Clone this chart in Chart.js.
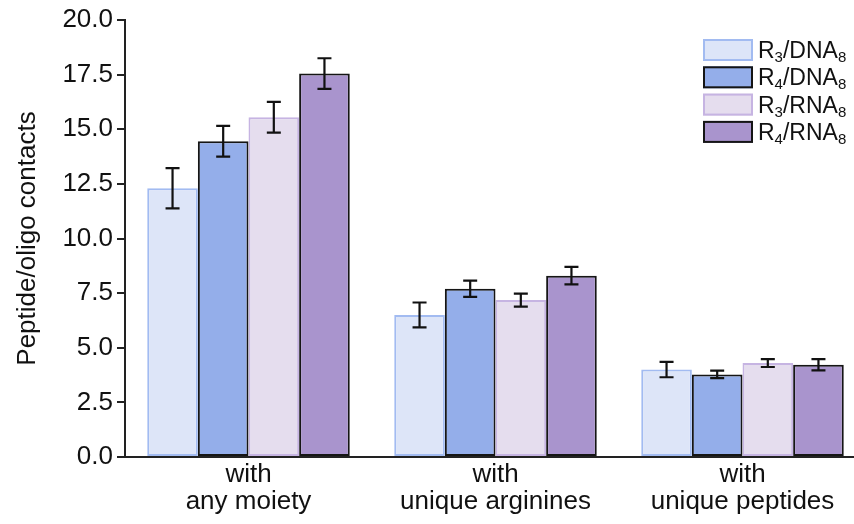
<!DOCTYPE html>
<html>
<head>
<meta charset="utf-8">
<script src="https://cdn.jsdelivr.net/npm/chart.js@4.4.1/dist/chart.umd.min.js"></script>
<style>
  html, body { margin: 0; padding: 0; background: #fff; overflow: hidden; }
  #wrap { width: 854px; height: 524px; overflow: hidden; }
  canvas { display: block; }
</style>
</head>
<body>
<div id="wrap"><canvas id="c" width="870" height="524"></canvas></div>
<script>
// Contact counts per peptide/oligo system
const categories = [["with", "any moiety"], ["with", "unique arginines"], ["with", "unique peptides"]];
const seriesNames = ["R3/DNA8", "R4/DNA8", "R3/RNA8", "R4/RNA8"];
const r3Dna = [12.3, 6.5, 4.0];
const r4Dna = [14.45, 7.7, 3.78];
const r3Rna = [15.55, 7.18, 4.3];
const r4Rna = [17.55, 8.3, 4.22];
const r3DnaErr = [0.92, 0.57, 0.35];
const r4DnaErr = [0.7, 0.37, 0.17];
const r3RnaErr = [0.7, 0.3, 0.18];
const r4RnaErr = [0.7, 0.4, 0.26];
const yTicks = [0, 2.5, 5, 7.5, 10, 12.5, 15, 17.5, 20];

const FONT = "'Liberation Sans', Arial, Helvetica, sans-serif";
const fills = ["#dde5f8", "#94aeea", "#e5ddee", "#a994cd"];
const edges = ["#a2bbf1", "#151515", "#c6b4e2", "#151515"];
const values = [r3Dna, r4Dna, r3Rna, r4Rna];
const errors = [r3DnaErr, r4DnaErr, r3RnaErr, r4RnaErr];

// error bars drawn through the y scale
const errorBars = {
  id: "errorBars",
  afterDatasetsDraw(chart) {
    const ctx = chart.ctx, y = chart.scales.y;
    ctx.save();
    ctx.strokeStyle = "#111";
    ctx.lineWidth = 2.2;
    chart.data.datasets.forEach((ds, i) => {
      const meta = chart.getDatasetMeta(i);
      meta.data.forEach((bar, j) => {
        const v = ds.data[j], e = ds.errors[j];
        const yt = y.getPixelForValue(v + e), yb = y.getPixelForValue(v - e);
        const cap = 7;
        ctx.beginPath();
        ctx.moveTo(bar.x, yt); ctx.lineTo(bar.x, yb);
        ctx.moveTo(bar.x - cap, yt); ctx.lineTo(bar.x + cap, yt);
        ctx.moveTo(bar.x - cap, yb); ctx.lineTo(bar.x + cap, yb);
        ctx.stroke();
      });
    });
    ctx.restore();
  }
};

// legend with subscripted digits
const subLegend = {
  id: "subLegend",
  afterDraw(chart) {
    const ctx = chart.ctx;
    const x0 = 703, y0 = 39, bw = 50, bh = 22, step = 27.3;
    ctx.save();
    chart.data.datasets.forEach((ds, i) => {
      const top = y0 + i * step;
      ctx.fillStyle = ds.backgroundColor;
      ctx.fillRect(x0, top, bw, bh);
      ctx.strokeStyle = ds.borderColor;
      ctx.lineWidth = 2;
      ctx.strokeRect(x0 + 1, top + 1, bw - 2, bh - 2);
      let x = x0 + 55;
      const base = top + bh / 2 + 8;
      ctx.fillStyle = "#111";
      ctx.textBaseline = "alphabetic";
      ctx.textAlign = "left";
      for (const ch of ds.label) {
        const sub = /[0-9]/.test(ch);
        ctx.font = (sub ? "15px " : "23px ") + FONT;
        ctx.fillText(ch, x, sub ? base + 4 : base);
        x += ctx.measureText(ch).width;
      }
    });
    ctx.restore();
  }
};

new Chart(document.getElementById("c"), {
  type: "bar",
  data: {
    labels: categories,
    datasets: seriesNames.map((name, i) => ({
      label: name,
      data: values[i],
      errors: errors[i],
      backgroundColor: fills[i],
      borderColor: edges[i],
      borderWidth: 2,
      borderSkipped: false,
      categoryPercentage: 0.82,
      barPercentage: 1.0
    }))
  },
  options: {
    responsive: false,
    animation: false,
    layout: { padding: { left: 0, right: 4, top: 20, bottom: 0 } },
    plugins: { legend: { display: false }, tooltip: { enabled: false } },
    scales: {
      x: {
        grid: { display: false },
        border: { display: true, color: "#222", width: 2 },
        ticks: { color: "#111", font: { family: FONT, size: 26, lineHeight: 1.02 }, padding: -3, maxRotation: 0, autoSkip: false },
        afterFit(s) { s.height = 67; }
      },
      y: {
        min: 0, max: 20,
        afterBuildTicks(s) { s.ticks = yTicks.map(v => ({ value: v })); },
        grid: { display: true, drawOnChartArea: false, drawTicks: true, tickLength: 8, color: "#222", lineWidth: 2 },
        border: { display: true, color: "#222", width: 2 },
        ticks: { color: "#111", font: { family: FONT, size: 26 }, padding: 4, callback: v => Number(v).toFixed(1) },
        title: { display: true, text: "Peptide/oligo contacts", color: "#111", font: { family: FONT, size: 26 }, padding: { top: 12, bottom: 0 } },
        afterFit(s) { s.width = 125; }
      }
    }
  },
  plugins: [errorBars, subLegend]
});
</script>
</body>
</html>
